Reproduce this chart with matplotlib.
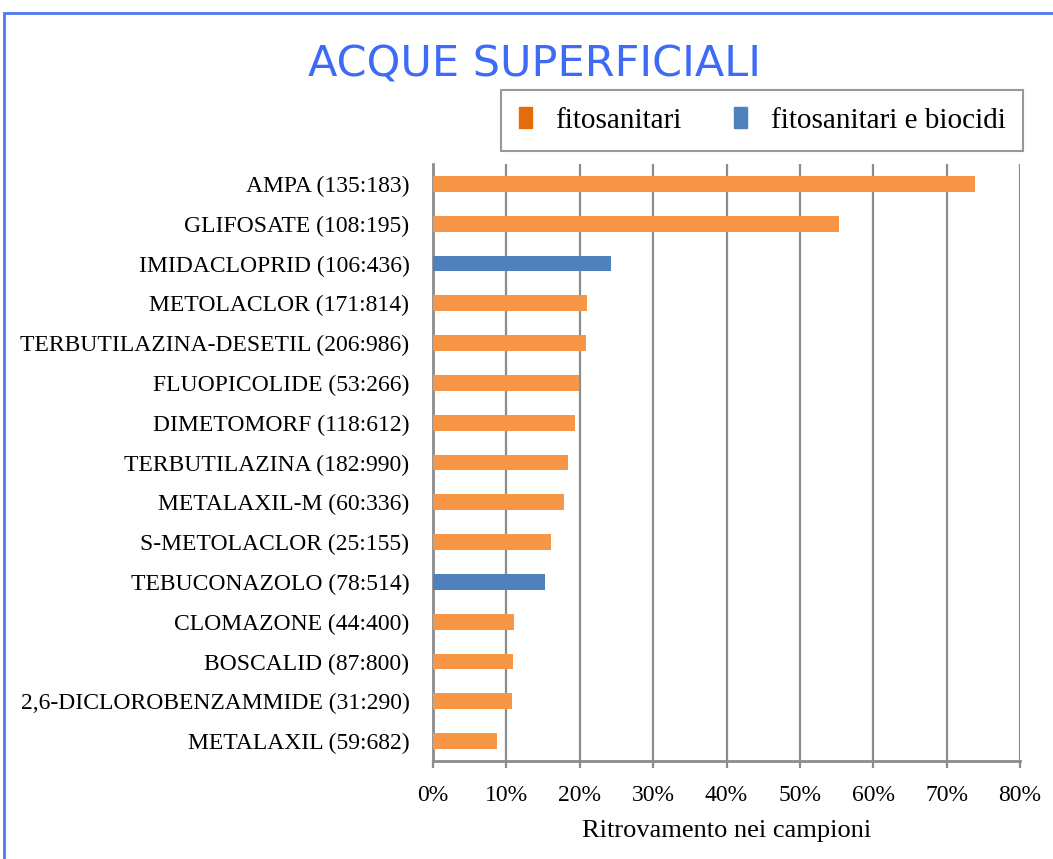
import matplotlib
matplotlib.use("Agg")
import matplotlib.pyplot as plt
from matplotlib.patches import Patch, Rectangle
from matplotlib.ticker import FuncFormatter

categories = ["AMPA (135:183)", "GLIFOSATE (108:195)", "IMIDACLOPRID (106:436)",
              "METOLACLOR (171:814)", "TERBUTILAZINA-DESETIL (206:986)",
              "FLUOPICOLIDE (53:266)", "DIMETOMORF (118:612)", "TERBUTILAZINA (182:990)",
              "METALAXIL-M (60:336)", "S-METOLACLOR (25:155)", "TEBUCONAZOLO (78:514)",
              "CLOMAZONE (44:400)", "BOSCALID (87:800)", "2,6-DICLOROBENZAMMIDE (31:290)",
              "METALAXIL (59:682)"]
values = [0.738, 0.554, 0.243, 0.210, 0.209, 0.199, 0.193, 0.184, 0.179, 0.161,
          0.152, 0.110, 0.109, 0.107, 0.087]
groups = ["f", "f", "b", "f", "f", "f", "f", "f", "f", "f", "b", "f", "f", "f", "f"]
xticks = [0, 0.1, 0.2, 0.3, 0.4, 0.5, 0.6, 0.7, 0.8]

bar_colors = {"f": "#F79646", "b": "#4F81BD"}
serif = ["Liberation Serif", "DejaVu Serif"]

fig = plt.figure(figsize=(10.53, 8.59), dpi=100)
W, H = 1053, 859
ax = fig.add_axes([433 / W, 1 - 761 / H, (1020 - 433) / W, (761 - 164) / H])

y = list(range(len(categories)))
ax.barh(y, values, height=0.4, color=[bar_colors[g] for g in groups], zorder=3)
ax.set_ylim(len(categories) - 0.5, -0.5)
ax.set_xlim(0, 0.8)
ax.set_xticks(xticks)
ax.xaxis.set_major_formatter(FuncFormatter(lambda v, p: f"{v*100:.0f}%"))
ax.set_yticks(y)
ax.set_yticklabels(categories, fontfamily=serif, fontsize=17)
for lab in ax.get_xticklabels():
    lab.set_fontfamily(serif)
    lab.set_fontsize(17)
ax.grid(axis="x", color="#8C8C8C", linewidth=1.6, zorder=0)
for s in ["top", "right"]:
    ax.spines[s].set_visible(False)
ax.spines["left"].set_color("#8C8C8C")
ax.spines["left"].set_linewidth(2)
ax.spines["bottom"].set_color("#8C8C8C")
ax.spines["bottom"].set_linewidth(2)
ax.tick_params(axis="y", length=0, pad=17)
ax.tick_params(axis="x", length=5, width=1.6, color="#8C8C8C", pad=12, direction="out")
ax.set_xlabel("Ritrovamento nei campioni", fontfamily=serif, fontsize=19, labelpad=10)

fig.text(535 / W, 1 - 65 / H, "ACQUE SUPERFICIALI", ha="center", va="center",
         color="#3D6BF5", fontsize=31, fontfamily="DejaVu Sans")

handles = [Patch(color="#E46C0A", label="fitosanitari"),
           Patch(color="#4F81BD", label="fitosanitari e biocidi")]
leg = fig.legend(handles=handles, loc="upper right", bbox_to_anchor=(1023 / W, 1 - 90 / H),
                 borderaxespad=0,
                 ncol=2, prop={"family": serif, "size": 21}, frameon=True, fancybox=False,
                 edgecolor="#808080", handlelength=0.45, handleheight=0.7,
                 columnspacing=1.8, borderpad=0.6, handletextpad=0.8)
leg.get_frame().set_linewidth(1.5)

fig.add_artist(Rectangle((4 / W, -0.1), 1.2, 1 - 13 / H + 0.1, transform=fig.transFigure,
                         fill=False, edgecolor="#4C78F0", linewidth=2))

fig.savefig("out.png", dpi=100)
